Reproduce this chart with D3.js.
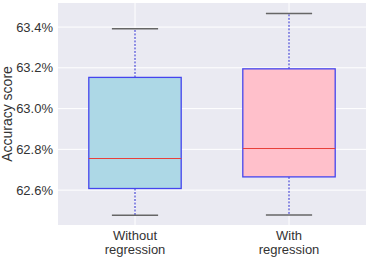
<!DOCTYPE html>
<html><head><meta charset="utf-8">
<script src="https://cdn.jsdelivr.net/npm/d3@7"></script>
<style>body{margin:0;background:#fff}svg{display:block}</style>
</head><body>
<svg id="c" width="367" height="257"></svg>
<script>
const categories = [["Without","regression"],["With","regression"]];
const whiskerLow = [62.477, 62.478];
const q1 = [62.608, 62.665];
const medians = [62.759, 62.808];
const q3 = [63.153, 63.195];
const whiskerHigh = [63.392, 63.466];
const fills = ["#ADD8E6", "#FFC0CB"];
const yTicks = [62.6, 62.8, 63.0, 63.2, 63.4];

const svg = d3.select("#c");
const L = 58, R = 366, T = 3, B = 225;
const x = d3.scaleLinear().domain([-0.5, 1.5]).range([L, R]);
const y = d3.scaleLinear().domain([62.429, 63.518]).range([B, T]);

svg.append("rect").attr("x", L).attr("y", T).attr("width", R - L).attr("height", B - T).attr("fill", "#EAEAF2");

const g = svg.append("g");
yTicks.forEach(t => g.append("line").attr("x1", L).attr("x2", R).attr("y1", y(t)).attr("y2", y(t)).attr("stroke", "#fff").attr("stroke-width", 1));
categories.forEach((c, i) => g.append("line").attr("x1", x(i)).attr("x2", x(i)).attr("y1", T).attr("y2", B).attr("stroke", "#fff").attr("stroke-width", 1));

const yAxis = d3.axisLeft(y).tickValues(yTicks).tickSize(0).tickPadding(5).tickFormat(d => d3.format(".1f")(d) + "%");
const ya = svg.append("g").attr("transform", `translate(${L},0)`).call(yAxis);
ya.select(".domain").remove();
ya.selectAll("text").attr("font-family", "Liberation Sans, Arial, sans-serif").attr("font-size", 13).attr("fill", "#333");

const bw = 0.6, cw = 0.3;
categories.forEach((c, i) => {
  const cx = x(i);
  svg.append("line").attr("x1", cx).attr("x2", cx).attr("y1", y(q3[i])).attr("y2", y(whiskerHigh[i]))
    .attr("stroke", "#2222cc").attr("stroke-width", 1).attr("stroke-dasharray", "2,1.5");
  svg.append("line").attr("x1", cx).attr("x2", cx).attr("y1", y(q1[i])).attr("y2", y(whiskerLow[i]))
    .attr("stroke", "#2222cc").attr("stroke-width", 1).attr("stroke-dasharray", "2,1.5");
  [whiskerLow[i], whiskerHigh[i]].forEach(v => svg.append("line")
    .attr("x1", x(i - cw / 2)).attr("x2", x(i + cw / 2)).attr("y1", y(v)).attr("y2", y(v))
    .attr("stroke", "#666").attr("stroke-width", 1.5));
  svg.append("rect").attr("x", x(i - bw / 2)).attr("width", x(i + bw / 2) - x(i - bw / 2))
    .attr("y", y(q3[i])).attr("height", y(q1[i]) - y(q3[i]))
    .attr("fill", fills[i]).attr("stroke", "#4545ee").attr("stroke-width", 1.3);
  const my = Math.round(y(medians[i])) + 0.5;
  svg.append("line").attr("x1", x(i - bw / 2)).attr("x2", x(i + bw / 2)).attr("y1", my).attr("y2", my)
    .attr("stroke", "#e8403a").attr("stroke-width", 1);
  const t = svg.append("text").attr("x", cx).attr("y", 240).attr("text-anchor", "middle")
    .attr("font-family", "Liberation Sans, Arial, sans-serif").attr("font-size", 13).attr("fill", "#333");
  c.forEach((s, k) => t.append("tspan").attr("x", cx).attr("dy", k ? 14 : 0).text(s));
});

svg.append("text").attr("transform", `translate(12,${(T + B) / 2}) rotate(-90)`).attr("text-anchor", "middle")
  .attr("font-family", "Liberation Sans, Arial, sans-serif").attr("font-size", 14).attr("fill", "#333").text("Accuracy score");
</script>
</body></html>
